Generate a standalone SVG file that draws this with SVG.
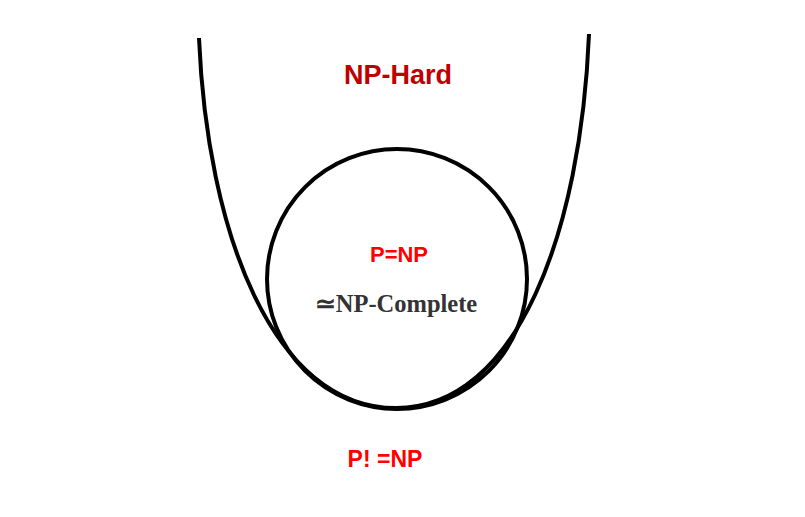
<svg xmlns="http://www.w3.org/2000/svg" width="805" height="517" viewBox="0 0 805 517">
<style>
.ln{fill:none;stroke:#000;stroke-width:4;}
.sans{font-family:"Liberation Sans",Arial,sans-serif;font-weight:bold;text-anchor:middle;}
.serif{font-family:"Liberation Serif","Times New Roman",serif;font-weight:bold;text-anchor:middle;}
</style>
<rect width="805" height="517" fill="#fff"/>
<g id="connectors">
<path id="np-hard-boundary" class="ln" d="M199,38 C207,230 272,408 396,408 C518,408 581,230 589,34"/>
</g>
<g id="np-hard">
<text class="sans" x="398" y="84" font-size="27" fill="#c00000">NP-Hard</text>
</g>
<g id="np-complete">
<circle class="ln" cx="397" cy="279" r="130"/>
<text class="sans" x="399" y="262" font-size="22" fill="#ff0000">P=NP</text>
<text class="serif" x="396" y="312" font-size="24.5" fill="#333333">≃NP-Complete</text>
</g>
<g id="p-neq-np">
<text class="sans" x="385" y="467" font-size="23" fill="#ff0000">P! =NP</text>
</g>
</svg>
